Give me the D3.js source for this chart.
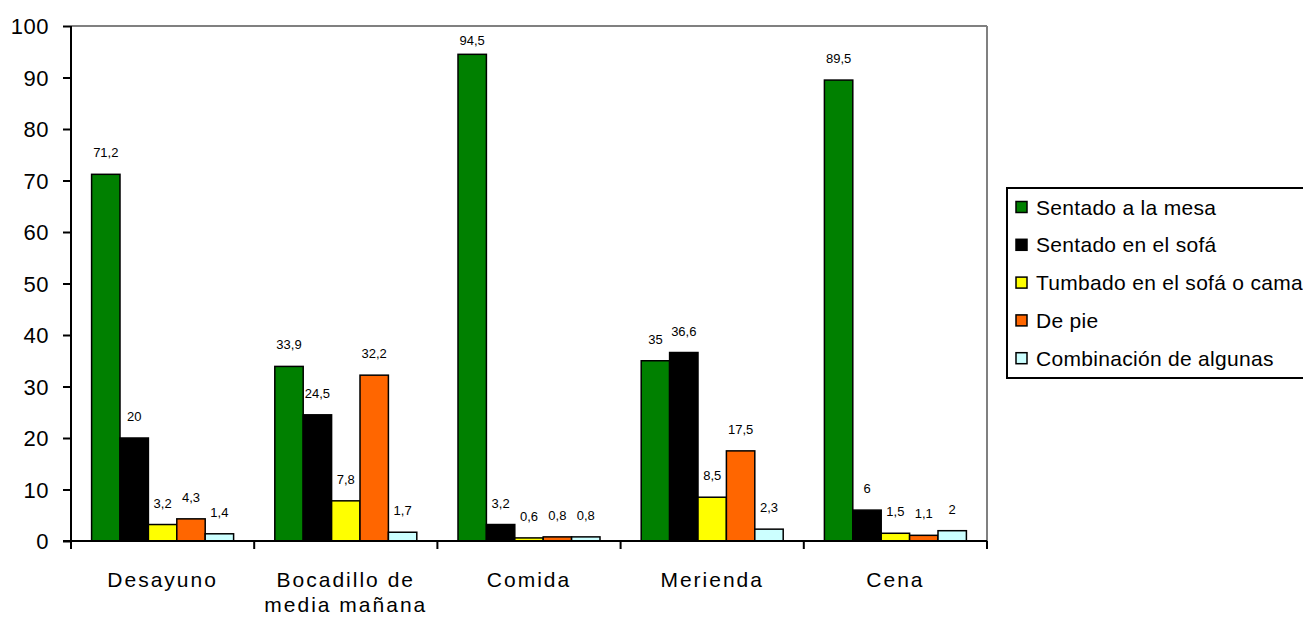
<!DOCTYPE html>
<html>
<head>
<meta charset="utf-8">
<script src="https://cdn.jsdelivr.net/npm/d3@7"></script>
<style>
  html, body { margin: 0; padding: 0; background: #fff; }
  svg { display: block; font-family: "Liberation Sans", Arial, sans-serif; }
</style>
</head>
<body>
<svg id="chart" width="1303" height="619"></svg>
<script>
// ---- data ----
const categories = ["Desayuno", "Bocadillo de\nmedia mañana", "Comida", "Merienda", "Cena"];
const seriesNames = ["Sentado a la mesa", "Sentado en el sofá", "Tumbado en el sofá o cama", "De pie", "Combinación de algunas"];
const sentadoMesa  = [71.2, 33.9, 94.5, 35, 89.5];
const sentadoSofa  = [20, 24.5, 3.2, 36.6, 6];
const tumbado      = [3.2, 7.8, 0.6, 8.5, 1.5];
const dePie        = [4.3, 32.2, 0.8, 17.5, 1.1];
const combinacion  = [1.4, 1.7, 0.8, 2.3, 2];
const seriesColors = ["#008000", "#000000", "#FFFF00", "#FF6600", "#CCFFFF"];
const yTicks = [0, 10, 20, 30, 40, 50, 60, 70, 80, 90, 100];

const seriesValues = [sentadoMesa, sentadoSofa, tumbado, dePie, combinacion];

// ---- layout ----
const svg = d3.select("#chart");
const plot = { left: 71, right: 987, top: 26, bottom: 541 };

const y = d3.scaleLinear().domain([0, 100]).range([plot.bottom, plot.top]);
const x0 = d3.scaleBand().domain(categories).range([plot.left, plot.right]).padding(0);
const bandW = x0.bandwidth();
const x1 = d3.scaleBand().domain(seriesNames).range([20.6, bandW - 20.6]).padding(0);

// plot frame (gray top & right)
svg.append("line").attr("x1", plot.left).attr("x2", plot.right).attr("y1", plot.top).attr("y2", plot.top)
  .attr("stroke", "#808080").attr("stroke-width", 2);
svg.append("line").attr("x1", plot.right).attr("x2", plot.right).attr("y1", plot.top).attr("y2", plot.bottom)
  .attr("stroke", "#808080").attr("stroke-width", 2);

// bars
const groups = svg.append("g").selectAll("g")
  .data(categories)
  .join("g")
  .attr("transform", d => `translate(${x0(d)},0)`);

groups.each(function(cat, ci) {
  const g = d3.select(this);
  seriesNames.forEach((s, si) => {
    const v = seriesValues[si][ci];
    g.append("rect")
      .attr("x", x1(s))
      .attr("y", y(v))
      .attr("width", x1.bandwidth())
      .attr("height", y(0) - y(v))
      .attr("fill", seriesColors[si])
      .attr("stroke", "#000")
      .attr("stroke-width", 1.5);
  });
});

// value labels
groups.each(function(cat, ci) {
  const g = d3.select(this);
  seriesNames.forEach((s, si) => {
    const v = seriesValues[si][ci];
    const base = Math.max(y(v) - 17, 45);
    g.append("text")
      .attr("x", x1(s) + x1.bandwidth() / 2)
      .attr("y", base)
      .attr("text-anchor", "middle")
      .attr("font-size", 13)
      .attr("fill", "#000")
      .text(String(v).replace(".", ","));
  });
});

// y axis
const yAxis = d3.axisLeft(y).tickValues(yTicks).tickSize(8).tickPadding(14).tickFormat(d3.format("d"));
const ya = svg.append("g").attr("transform", `translate(${plot.left},0)`).call(yAxis);
ya.select(".domain").attr("stroke", "#000").attr("stroke-width", 2).attr("d", `M0,${plot.top}V${plot.bottom}`);
ya.selectAll(".tick line").attr("stroke", "#000").attr("stroke-width", 2);
ya.selectAll(".tick text").attr("font-size", 22).attr("font-family", "Liberation Sans, Arial, sans-serif")
  .attr("fill", "#000").attr("dy", "0.36em").attr("letter-spacing", 0.5);

// x axis
const xTickPos = categories.map(c => x0(c)).concat([plot.right]);
const xa = svg.append("g");
xa.append("line").attr("x1", plot.left - 8).attr("x2", plot.right).attr("y1", plot.bottom).attr("y2", plot.bottom)
  .attr("stroke", "#000").attr("stroke-width", 2);
xa.selectAll("line.tk").data(xTickPos).join("line").attr("class", "tk")
  .attr("x1", d => d).attr("x2", d => d).attr("y1", plot.bottom).attr("y2", plot.bottom + 8)
  .attr("stroke", "#000").attr("stroke-width", 2);
xa.selectAll("text.cat").data(categories).join("text").attr("class", "cat")
  .attr("x", d => x0(d) + bandW / 2)
  .attr("y", 587)
  .attr("text-anchor", "middle")
  .attr("font-size", 21)
  .attr("letter-spacing", 2)
  .attr("fill", "#000")
  .each(function(d) {
    const t = d3.select(this);
    d.split("\n").forEach((line, i) => {
      t.append("tspan").attr("x", x0(d) + bandW / 2).attr("dy", i === 0 ? 0 : 25).text(line);
    });
  });

// legend
const leg = svg.append("g");
const legTop = 188, legLeft = 1007, rowGap = 37.8, firstRow = 207;
leg.append("rect").attr("x", legLeft).attr("y", legTop).attr("width", 320).attr("height", 190)
  .attr("fill", "#fff").attr("stroke", "#000").attr("stroke-width", 2);
seriesNames.forEach((s, i) => {
  const cy = firstRow + i * rowGap;
  leg.append("rect").attr("x", legLeft + 9).attr("y", cy - 5.5).attr("width", 11).attr("height", 11)
    .attr("fill", seriesColors[i]).attr("stroke", "#000").attr("stroke-width", 1.5);
  leg.append("text").attr("x", legLeft + 29).attr("y", cy + 7.5)
    .attr("font-size", 21).attr("letter-spacing", 0.3).attr("fill", "#000").text(s);
});
</script>
</body>
</html>
